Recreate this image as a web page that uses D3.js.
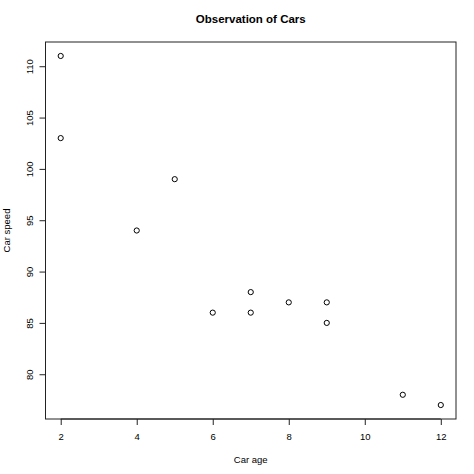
<!DOCTYPE html>
<html><head><meta charset="utf-8">
<script src="https://cdn.jsdelivr.net/npm/d3@7"></script>
<style>body{margin:0;background:#fff;} text{font-family:"Liberation Sans",Arial,sans-serif;fill:#000;}</style>
</head><body>
<svg id="c" width="474" height="474"></svg>
<script>
const carAge = [2, 2, 5, 4, 6, 7, 7, 8, 9, 9, 11, 12];
const carSpeed = [111, 103, 99, 94, 86, 88, 86, 87, 87, 85, 78, 77];
const xTicks = [2, 4, 6, 8, 10, 12];
const yTicks = [80, 85, 90, 95, 100, 105, 110];
const title = "Observation of Cars";
const xLabel = "Car age";
const yLabel = "Car speed";

const svg = d3.select("#c");
const L = 45.5, R = 456, T = 42, B = 419;
const x = d3.scaleLinear().domain([1.6, 12.4]).range([L, R]);
const y = d3.scaleLinear().domain([75.64, 112.36]).range([B, T]);

svg.append("rect").attr("x", L).attr("y", T).attr("width", R - L).attr("height", B - T)
  .attr("fill", "none").attr("stroke", "#222").attr("stroke-width", 1);

const xa = svg.append("g").attr("transform", `translate(0,${B})`)
  .call(d3.axisBottom(x).tickValues(xTicks).tickSize(6).tickPadding(8).tickSizeOuter(0));
const ya = svg.append("g").attr("transform", `translate(${L},0)`)
  .call(d3.axisLeft(y).tickValues(yTicks).tickSize(6).tickSizeOuter(0));
[xa, ya].forEach(a => {
  a.select(".domain").attr("stroke", "#222");
  a.selectAll(".tick line").attr("stroke", "#222");
  a.selectAll("text").style("font-family", '"Liberation Sans",Arial,sans-serif').style("font-size", "9.5px").attr("fill", "#000");
});
xa.selectAll(".domain").attr("d", `M${x(2)},0H${x(12)}`);
ya.selectAll(".domain").attr("d", `M0,${y(80)}V${y(110)}`);
ya.selectAll(".tick text")
  .attr("x", null).attr("dy", null)
  .attr("text-anchor", "middle")
  .attr("transform", "translate(-13,0) rotate(-90)");

svg.append("g").selectAll("circle").data(carAge.map((a, i) => [a, carSpeed[i]]))
  .join("circle")
  .attr("cx", d => x(d[0])).attr("cy", d => y(d[1])).attr("r", 2.6)
  .attr("fill", "none").attr("stroke", "#000").attr("stroke-width", 1);

svg.append("text").attr("x", (L + R) / 2).attr("y", 22.5).attr("text-anchor", "middle")
  .style("font-size", "11.5px").style("font-weight", "bold").text(title);
svg.append("text").attr("x", (L + R) / 2).attr("y", 462.5).attr("text-anchor", "middle")
  .style("font-size", "9.5px").text(xLabel);
svg.append("text").attr("transform", `translate(10,${(T + B) / 2}) rotate(-90)`).attr("text-anchor", "middle")
  .style("font-size", "9.5px").text(yLabel);
</script>
</body></html>
